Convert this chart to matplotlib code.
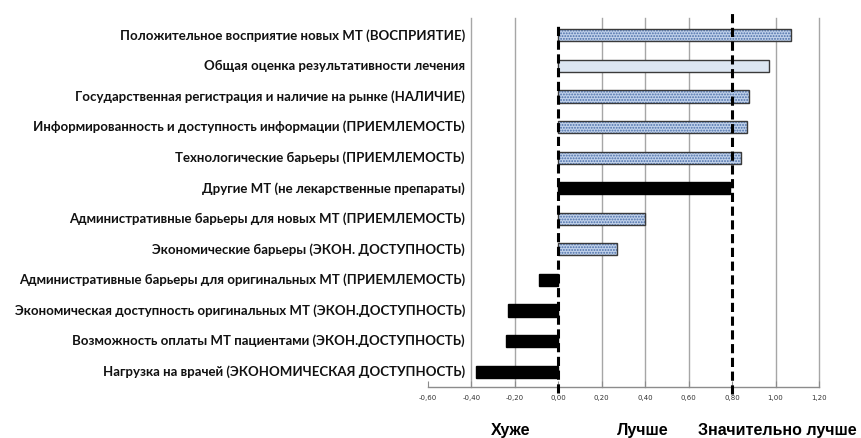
import matplotlib.pyplot as plt
import matplotlib.transforms as mtransforms

# данные (сверху вниз, как на графике)
labels = [
    "Положительное восприятие новых МТ (ВОСПРИЯТИЕ)",
    "Общая оценка результативности лечения",
    "Государственная регистрация и наличие на рынке (НАЛИЧИЕ)",
    "Информированность и доступность информации (ПРИЕМЛЕМОСТЬ)",
    "Технологические барьеры (ПРИЕМЛЕМОСТЬ)",
    "Другие МТ (не лекарственные препараты)",
    "Административные барьеры для новых МТ (ПРИЕМЛЕМОСТЬ)",
    "Экономические барьеры (ЭКОН. ДОСТУПНОСТЬ)",
    "Административные барьеры для оригинальных МТ (ПРИЕМЛЕМОСТЬ)",
    "Экономическая доступность оригинальных МТ (ЭКОН.ДОСТУПНОСТЬ)",
    "Возможность оплаты МТ пациентами (ЭКОН.ДОСТУПНОСТЬ)",
    "Нагрузка на врачей (ЭКОНОМИЧЕСКАЯ ДОСТУПНОСТЬ)",
]
values = [1.07, 0.97, 0.88, 0.87, 0.84, 0.79, 0.40, 0.27, -0.09, -0.23, -0.24, -0.38]
styles = ["hatch", "plain", "hatch", "hatch", "hatch", "black",
          "hatch", "hatch", "black", "black", "black", "black"]
xticks = [-0.6, -0.4, -0.2, 0.0, 0.2, 0.4, 0.6, 0.8, 1.0, 1.2]
bottom_words = ["Хуже", "Лучше", "Значительно лучше"]
bottom_pos = [-0.22, 0.39, 1.01]

plt.rcParams['hatch.linewidth'] = 0.9

fig = plt.figure(figsize=(8.62, 4.38), dpi=100)
ax = fig.add_axes([428 / 862, 51 / 438, 391 / 862, 367 / 438])

n = len(labels)
ypos = [n - 1 - i for i in range(n)]

for y, v, s in zip(ypos, values, styles):
    if s == "hatch":
        ax.barh(y, v, height=0.4, color="#c0d1ea", hatch="......",
                edgecolor="#4a6ea8", linewidth=0, zorder=3)
        ax.barh(y, v, height=0.4, fill=False, edgecolor="#3a3a3a",
                linewidth=1.0, zorder=4)
    elif s == "plain":
        ax.barh(y, v, height=0.4, color="#dce6f2", edgecolor="#3a3a3a",
                linewidth=1.0, zorder=3)
    else:
        ax.barh(y, v, height=0.4, color="black", edgecolor="black",
                linewidth=1.0, zorder=3)

ax.set_xlim(-0.6, 1.2)
ax.set_ylim(-0.5, n - 0.5)

for x in xticks[1:]:
    if x in (0.0, 0.8):
        continue
    ax.axvline(x, ymax=1.006, color="#a6a6a6", linewidth=1.0, zorder=1,
               clip_on=False)

# пунктирные линии
trans = mtransforms.blended_transform_factory(ax.transData, ax.transAxes)
ax.plot([0, 0], [-0.015, 0.995], transform=trans, color="black",
        linestyle=(0, (3, 1.5)), linewidth=2.2, clip_on=False, zorder=5)
ax.plot([0.8, 0.8], [-0.02, 1.02], transform=trans, color="black",
        linestyle=(0, (3, 1.5)), linewidth=2.2, clip_on=False, zorder=5)

for sp in ["top", "right", "left"]:
    ax.spines[sp].set_visible(False)
ax.spines["bottom"].set_color("#8c8c8c")
ax.spines["bottom"].set_linewidth(1.0)

ax.set_yticks([])
ax.set_xticks(xticks)
ax.set_xticklabels([f"{t:.2f}".replace(".", ",") for t in xticks],
                   fontsize=5, color="#333333")
ax.tick_params(axis="x", direction="in", length=4, color="#8c8c8c", pad=6)

for y, lab in zip(ypos, labels):
    ax.text(-0.43, y, lab, ha="right", va="center", fontsize=9.5,
            fontweight="bold", family="Lato", color="#111111",
            clip_on=False)

btrans = mtransforms.blended_transform_factory(ax.transData, fig.transFigure)
for w, p in zip(bottom_words, bottom_pos):
    ax.text(p, 1 - 430 / 438, w, transform=btrans, ha="center", va="center",
            fontsize=11.5, fontweight="bold", family="Liberation Sans",
            color="black", clip_on=False)

fig.savefig("out.png", dpi=100)
